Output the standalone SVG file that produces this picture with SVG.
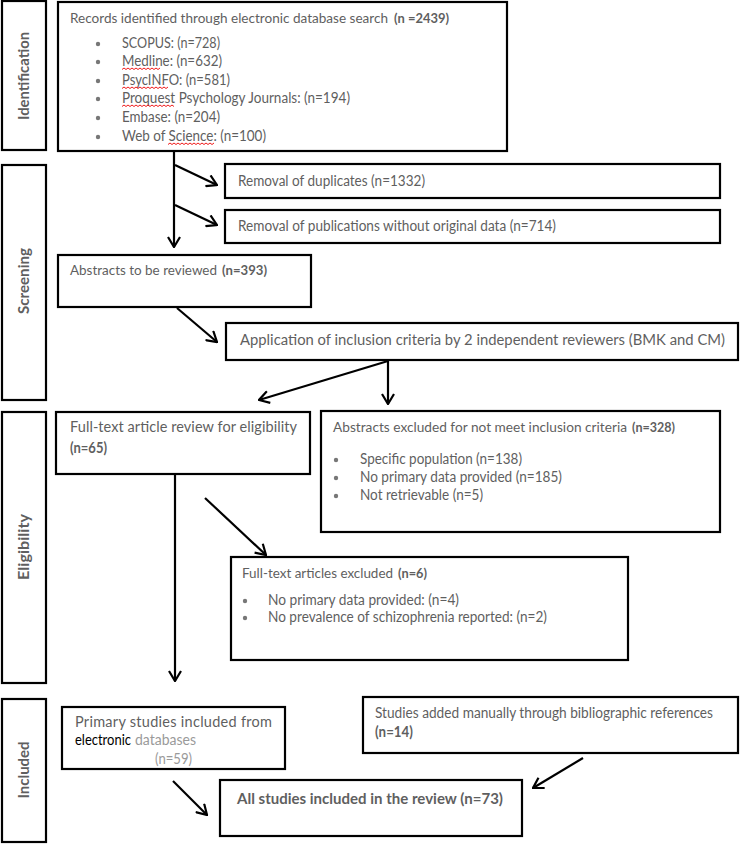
<svg xmlns="http://www.w3.org/2000/svg" width="740" height="844" viewBox="0 0 740 844">
<defs>
<marker id="ah" viewBox="0 0 12 14" refX="11" refY="7" markerWidth="12" markerHeight="14" markerUnits="userSpaceOnUse" orient="auto">
<path d="M1,1 L11,7 L1,13" fill="none" stroke="#000" stroke-width="2.2"/>
</marker>
<style>
.box{fill:#fff;stroke:#000;stroke-width:2.2}
.t{font-family:Lato,"Liberation Sans",sans-serif;font-size:14.5px;fill:#5f5f5f}
.s{font-size:13.6px}
.b{font-weight:bold}
.lab{font-family:Lato,"Liberation Sans",sans-serif;font-size:15.5px;font-weight:bold;fill:#5f5f5f;text-anchor:middle}
.dot{fill:#777}
.c{fill:none;stroke:#000;stroke-width:2.2}
.sq{fill:none;stroke:#e00;stroke-width:0.9}
</style>
</defs>
<rect width="740" height="844" fill="#fff"/>

<g id="stage-identification">
<rect class="box" x="2" y="1" width="44" height="149"/>
<text class="lab" transform="translate(29,76) rotate(-90)" textLength="88" lengthAdjust="spacingAndGlyphs">Identification</text>
</g>
<g id="stage-screening">
<rect class="box" x="2" y="165" width="44" height="235"/>
<text class="lab" transform="translate(29,281) rotate(-90)" textLength="66" lengthAdjust="spacingAndGlyphs">Screening</text>
</g>
<g id="stage-eligibility">
<rect class="box" x="2" y="412" width="44" height="271"/>
<text class="lab" transform="translate(29,547) rotate(-90)" textLength="66" lengthAdjust="spacingAndGlyphs">Eligibility</text>
</g>
<g id="stage-included">
<rect class="box" x="2" y="699" width="44" height="143"/>
<text class="lab" transform="translate(29,770) rotate(-90)" textLength="57" lengthAdjust="spacingAndGlyphs">Included</text>
</g>

<g id="records">
<rect class="box" x="58" y="2" width="449" height="149"/>
<text class="t s" x="70" y="23" textLength="318" lengthAdjust="spacingAndGlyphs">Records identified through electronic database search</text>
<text class="t b s" x="394" y="23" textLength="55" lengthAdjust="spacingAndGlyphs">(n =2439)</text>
<circle class="dot" cx="98" cy="44" r="2.2"/>
<circle class="dot" cx="98" cy="62" r="2.2"/>
<circle class="dot" cx="98" cy="81" r="2.2"/>
<circle class="dot" cx="98" cy="99" r="2.2"/>
<circle class="dot" cx="98" cy="118" r="2.2"/>
<circle class="dot" cx="98" cy="137" r="2.2"/>
<text class="t" x="122" y="48" textLength="98" lengthAdjust="spacingAndGlyphs">SCOPUS: (n=728)</text>
<text class="t" x="122" y="66" textLength="100" lengthAdjust="spacingAndGlyphs">Medline: (n=632)</text>
<text class="t" x="122" y="85" textLength="108" lengthAdjust="spacingAndGlyphs">PsycINFO: (n=581)</text>
<text class="t" x="122" y="103" textLength="228" lengthAdjust="spacingAndGlyphs">Proquest Psychology Journals: (n=194)</text>
<text class="t" x="122" y="122" textLength="98" lengthAdjust="spacingAndGlyphs">Embase: (n=204)</text>
<text class="t" x="122" y="141" textLength="144" lengthAdjust="spacingAndGlyphs">Web of Science: (n=100)</text>
<path class="sq" d="M122,69.5 l2,-1.5 l2,1.5 l2,-1.5 l2,1.5 l2,-1.5 l2,1.5 l2,-1.5 l2,1.5 l2,-1.5 l2,1.5 l2,-1.5 l2,1.5 l2,-1.5 l2,1.5 l2,-1.5 l2,1.5 l2,-1.5 l2,1.5 l2,-1.5"/>
<path class="sq" d="M122,88.5 l2,-1.5 l2,1.5 l2,-1.5 l2,1.5 l2,-1.5 l2,1.5 l2,-1.5 l2,1.5 l2,-1.5 l2,1.5 l2,-1.5 l2,1.5 l2,-1.5 l2,1.5 l2,-1.5 l2,1.5 l2,-1.5 l2,1.5 l2,-1.5 l2,1.5 l2,-1.5 l2,1.5 l2,-1.5"/>
<path class="sq" d="M122,106.5 l2,-1.5 l2,1.5 l2,-1.5 l2,1.5 l2,-1.5 l2,1.5 l2,-1.5 l2,1.5 l2,-1.5 l2,1.5 l2,-1.5 l2,1.5 l2,-1.5 l2,1.5 l2,-1.5 l2,1.5 l2,-1.5 l2,1.5 l2,-1.5 l2,1.5 l2,-1.5 l2,1.5 l2,-1.5 l2,1.5 l2,-1.5 l2,1.5"/>
<path class="sq" d="M168,144.5 l2,-1.5 l2,1.5 l2,-1.5 l2,1.5 l2,-1.5 l2,1.5 l2,-1.5 l2,1.5 l2,-1.5 l2,1.5 l2,-1.5 l2,1.5 l2,-1.5 l2,1.5 l2,-1.5 l2,1.5 l2,-1.5 l2,1.5 l2,-1.5 l2,1.5 l2,-1.5 l2,1.5 l2,-1.5"/>
</g>

<g id="duplicates">
<rect class="box" x="225" y="164" width="495" height="34"/>
<text class="t" x="238" y="186" textLength="187" lengthAdjust="spacingAndGlyphs">Removal of duplicates (n=1332)</text>
</g>
<g id="no-original-data">
<rect class="box" x="225" y="210" width="495" height="33"/>
<text class="t" x="238" y="231" textLength="318" lengthAdjust="spacingAndGlyphs">Removal of publications without original data (n=714)</text>
</g>
<g id="abstracts-reviewed">
<rect class="box" x="58" y="255" width="253" height="52"/>
<text class="t s" x="70" y="275" textLength="147" lengthAdjust="spacingAndGlyphs">Abstracts to be reviewed</text>
<text class="t b s" x="222" y="275" textLength="45" lengthAdjust="spacingAndGlyphs">(n=393)</text>
</g>
<g id="inclusion-criteria">
<rect class="box" x="226" y="323" width="512" height="37"/>
<text class="t" x="240" y="345" textLength="485" lengthAdjust="spacingAndGlyphs">Application of inclusion criteria by 2 independent reviewers (BMK and CM)</text>
</g>
<g id="fulltext-review">
<rect class="box" x="56" y="412" width="254" height="62"/>
<text class="t" x="70" y="432" textLength="227" lengthAdjust="spacing">Full-text article review for eligibility</text>
<text class="t b" x="70" y="453" textLength="37" lengthAdjust="spacingAndGlyphs">(n=65)</text>
</g>
<g id="abstracts-excluded">
<rect class="box" x="321" y="411" width="399" height="121"/>
<text class="t s" x="333" y="432" textLength="294" lengthAdjust="spacingAndGlyphs">Abstracts excluded for not meet inclusion criteria</text>
<text class="t b s" x="632" y="432" textLength="43" lengthAdjust="spacingAndGlyphs">(n=328)</text>
<circle class="dot" cx="336" cy="460" r="2.2"/>
<circle class="dot" cx="336" cy="478" r="2.2"/>
<circle class="dot" cx="336" cy="496" r="2.2"/>
<text class="t" x="360" y="464" textLength="162" lengthAdjust="spacingAndGlyphs">Specific population (n=138)</text>
<text class="t" x="360" y="482" textLength="202" lengthAdjust="spacingAndGlyphs">No primary data provided (n=185)</text>
<text class="t" x="360" y="500" textLength="123" lengthAdjust="spacingAndGlyphs">Not retrievable (n=5)</text>
</g>
<g id="fulltext-excluded">
<rect class="box" x="231" y="557" width="397" height="103"/>
<text class="t s" x="242" y="578" textLength="151" lengthAdjust="spacingAndGlyphs">Full-text articles excluded</text>
<text class="t b s" x="398" y="578" textLength="29" lengthAdjust="spacingAndGlyphs">(n=6)</text>
<circle class="dot" cx="245" cy="601" r="2.2"/>
<circle class="dot" cx="245" cy="618" r="2.2"/>
<text class="t" x="268" y="605" textLength="191" lengthAdjust="spacingAndGlyphs">No primary data provided: (n=4)</text>
<text class="t" x="268" y="622" textLength="279" lengthAdjust="spacingAndGlyphs">No prevalence of schizophrenia reported: (n=2)</text>
</g>
<g id="primary-studies">
<rect class="box" x="62" y="707" width="223" height="62"/>
<text class="t" x="75" y="727" textLength="197" lengthAdjust="spacing">Primary studies included from</text>
<text class="t" x="75" y="745" style="fill:#000" textLength="56" lengthAdjust="spacingAndGlyphs">electronic</text>
<text class="t" x="135" y="745" style="fill:#9a9a9a" textLength="61" lengthAdjust="spacingAndGlyphs">databases</text>
<text class="t" x="155" y="764" style="fill:#9a9a9a" textLength="37" lengthAdjust="spacingAndGlyphs">(n=59)</text>
</g>
<g id="manual-studies">
<rect class="box" x="363" y="697" width="375" height="56"/>
<text class="t" x="375" y="718" textLength="338" lengthAdjust="spacingAndGlyphs">Studies added manually through bibliographic references</text>
<text class="t b" x="375" y="737" textLength="38" lengthAdjust="spacingAndGlyphs">(n=14)</text>
</g>
<g id="all-studies">
<rect class="box" x="220" y="780" width="302" height="56"/>
<text class="t b" x="237" y="804" style="font-size:15.5px" textLength="266" lengthAdjust="spacingAndGlyphs">All studies included in the review (n=73)</text>
</g>

<g id="connectors">
<line class="c" x1="174" y1="151" x2="174" y2="247" marker-end="url(#ah)"/>
<line class="c" x1="175" y1="165" x2="217" y2="185" marker-end="url(#ah)"/>
<line class="c" x1="175" y1="205" x2="217" y2="225" marker-end="url(#ah)"/>
<line class="c" x1="177" y1="308" x2="217" y2="342" marker-end="url(#ah)"/>
<line class="c" x1="388" y1="361" x2="388" y2="404" marker-end="url(#ah)"/>
<line class="c" x1="388" y1="361" x2="259" y2="400" marker-end="url(#ah)"/>
<line class="c" x1="175" y1="474" x2="175" y2="681" marker-end="url(#ah)"/>
<line class="c" x1="205" y1="498" x2="266" y2="555" marker-end="url(#ah)"/>
<line class="c" x1="173" y1="781" x2="207" y2="815" marker-end="url(#ah)"/>
<line class="c" x1="583" y1="758" x2="533" y2="788" marker-end="url(#ah)"/>
</g>
</svg>
